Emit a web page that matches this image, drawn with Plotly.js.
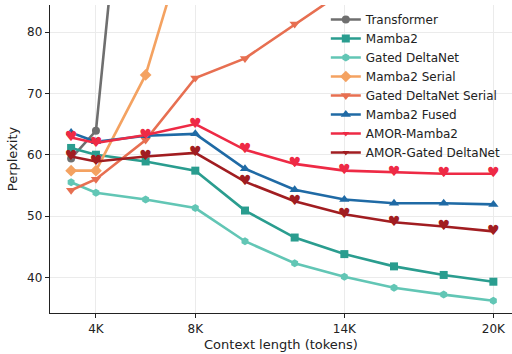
<!DOCTYPE html>
<html><head><meta charset="utf-8">
<script src="https://cdn.plot.ly/plotly-3.0.1.min.js"></script>
<style>html,body{margin:0;padding:0;background:#fff}#chart{width:512px;height:354px}</style>
</head><body><div id="chart"></div>
<script>
const ctx = [3, 4, 6, 8, 10, 12, 14, 16, 18, 20];
const tickVals = [4, 8, 14, 20];
const tickText = ["4K", "8K", "14K", "20K"];

const transformer = [59.4, 63.9, 145];
const mamba2 = [61.1, 60.0, 58.9, 57.4, 50.9, 46.5, 43.8, 41.8, 40.4, 39.3];
const gatedDeltaNet = [55.5, 53.8, 52.7, 51.3, 45.9, 42.3, 40.1, 38.3, 37.2, 36.2];
const mamba2Serial = [57.4, 57.4, 73.0, 100];
const gatedDeltaNetSerial = [54.2, 56.0, 62.4, 72.5, 75.7, 81.3, 86.7];
const mamba2Fused = [63.6, 62.1, 63.1, 63.4, 57.7, 54.3, 52.7, 52.1, 52.1, 51.9];
const amorMamba2 = [62.8, 61.9, 63.2, 65.0, 60.8, 58.5, 57.4, 57.1, 56.9, 56.9];
const amorGatedDeltaNet = [59.7, 58.9, 59.7, 60.3, 55.6, 52.4, 50.3, 49.0, 48.3, 47.5];

const names = ["Transformer","Mamba2","Gated DeltaNet","Mamba2 Serial","Gated DeltaNet Serial","Mamba2 Fused","AMOR-Mamba2","AMOR-Gated DeltaNet"];
const series = [transformer, mamba2, gatedDeltaNet, mamba2Serial, gatedDeltaNetSerial, mamba2Fused, amorMamba2, amorGatedDeltaNet];
const colors = ["#6f6f6f","#2a9d8f","#62c6b5","#f4a261","#e76f51","#1f6aa5","#ee2a45","#a11d21"];
const symbols = ["circle","square","hexagon","diamond","triangle-down","triangle-up","triangle-down","triangle-down"];
const sizes = [8,8,8,9,9,9,6,6];

const traces = [];
series.forEach((ys, i) => {
  traces.push({
    x: ctx.slice(0, ys.length), y: ys, name: names[i], type: "scatter", mode: "lines+markers",
    line: {color: colors[i], width: 2.6},
    marker: {symbol: symbols[i], size: sizes[i], color: colors[i]},
    cliponaxis: true
  });
});
// heart glyphs for AMOR series
[6, 7].forEach(i => {
  traces.push({
    x: ctx.slice(0, series[i].length), y: series[i], type: "scatter", mode: "text",
    text: series[i].map(() => "♥"), textposition: "middle center",
    textfont: {color: colors[i], size: 14, family: "DejaVu Sans"},
    showlegend: false, hoverinfo: "skip", cliponaxis: true
  });
});

const layout = {
  width: 512, height: 354,
  margin: {l: 50, r: 0, t: 5, b: 41},
  paper_bgcolor: "#fff", plot_bgcolor: "#fff",
  font: {family: "DejaVu Sans", size: 12, color: "#222"},
  showlegend: true,
  legend: {x: 0.597, y: 1.0, xanchor: "left", yanchor: "top", bgcolor: "rgba(255,255,255,0)",
           font: {size: 12, color: "#222"}, tracegroupgap: 0, itemwidth: 30},
  xaxis: {
    range: [2.15, 20.75], tickvals: tickVals, ticktext: tickText,
    showgrid: true, gridcolor: "#ebebeb", gridwidth: 1,
    showline: true, linecolor: "#222", linewidth: 1.2,
    ticks: "outside", ticklen: 4, tickcolor: "#222",
    zeroline: false,
    title: {text: "Context length (tokens)", font: {size: 13}, standoff: 5}
  },
  yaxis: {
    range: [34.2, 84.4], tickvals: [40, 50, 60, 70, 80],
    showgrid: true, gridcolor: "#ebebeb", gridwidth: 1,
    showline: true, linecolor: "#222", linewidth: 1.2,
    ticks: "outside", ticklen: 4, tickcolor: "#222",
    zeroline: false,
    title: {text: "Perplexity", font: {size: 13}, standoff: 6}
  }
};
Plotly.newPlot("chart", traces, layout, {staticPlot: true, displayModeBar: false});
</script></body></html>
